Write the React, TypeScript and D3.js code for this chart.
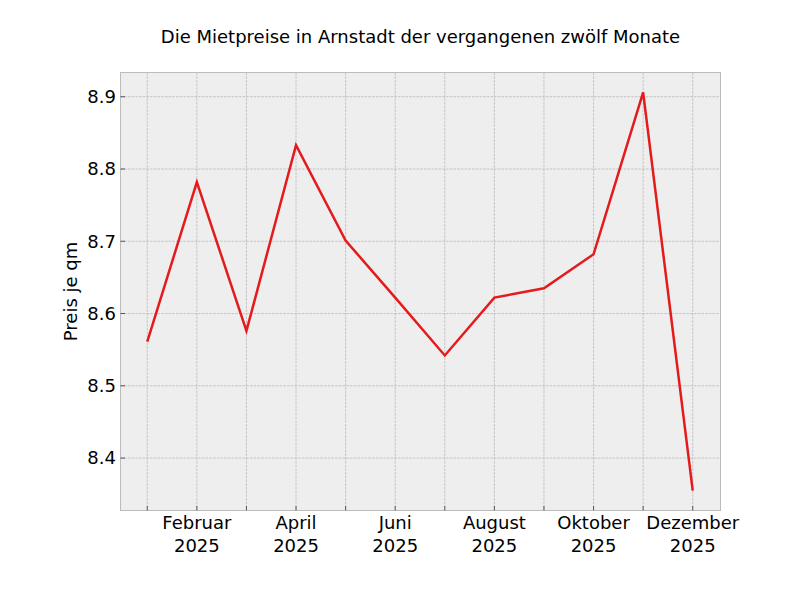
import React from "react";
import * as d3 from "d3";

const months = ["2025-01","2025-02","2025-03","2025-04","2025-05","2025-06","2025-07","2025-08","2025-09","2025-10","2025-11","2025-12"];
const prices = [8.561, 8.782, 8.576, 8.833, 8.701, 8.622, 8.542, 8.622, 8.635, 8.682, 8.906, 8.355];
const monthNames = ["Januar","Februar","März","April","Mai","Juni","Juli","August","September","Oktober","November","Dezember"];
const yTicks = [8.4, 8.5, 8.6, 8.7, 8.8, 8.9];
const title = "Die Mietpreise in Arnstadt der vergangenen zwölf Monate";
const yLabel = "Preis je qm";

const W = 800, H = 600;
const L = 120.5, R = 720.5, T = 72.5, B = 510.5;
const FONT = "DejaVu Sans";
const FS = 18;

export default function App() {
  const n = months.length;
  const xp = (n - 1) * 0.05;
  const x = d3.scaleLinear().domain([-xp, n - 1 + xp]).range([L - 0.5, R - 0.5]);
  const ymin = d3.min(prices)!, ymax = d3.max(prices)!;
  const yp = (ymax - ymin) * 0.05;
  const y = d3.scaleLinear().domain([ymin - yp, ymax + yp]).range([B, T]);
  const line = d3.line<number>().x((_, i) => x(i)).y((d) => y(d));

  return (
    <svg width={W} height={H} style={{ display: "block", position: "absolute", left: 0, top: 0 }} fontFamily={FONT}>
      <rect x={0} y={0} width={W} height={H} fill="#ffffff" />
      <rect x={L} y={T} width={R - L} height={B - T} fill="#eeeeee" />
      {months.map((_, i) => (
        <line key={"gx" + i} x1={x(i)} x2={x(i)} y1={T} y2={B} stroke="#b2b2b2" strokeWidth={0.7} strokeDasharray="2.6,1.1" />
      ))}
      {yTicks.map((v, i) => (
        <line key={"gy" + i} x1={L} x2={R} y1={y(v)} y2={y(v)} stroke="#b2b2b2" strokeWidth={0.7} strokeDasharray="2.6,1.1" />
      ))}
      <path d={line(prices)!} fill="none" stroke="#e41a1c" strokeWidth={2.5} strokeLinejoin="miter" />
      <rect x={L} y={T} width={R - L} height={B - T} fill="none" stroke="#bcbcbc" strokeWidth={1} />
      {months.map((_, i) => (
        <line key={"tx" + i} x1={x(i)} x2={x(i)} y1={B} y2={B - 4.5} stroke="#555" strokeWidth={1} />
      ))}
      {yTicks.map((v, i) => (
        <line key={"ty" + i} x1={L} x2={L + 4.5} y1={y(v)} y2={y(v)} stroke="#555" strokeWidth={1} />
      ))}
      {months.map((m, i) =>
        i % 2 === 1 ? (
          <text key={"lx" + i} x={x(i)} textAnchor="middle" fontSize={FS} fill="#000">
            <tspan x={x(i)} y={529}>{monthNames[+m.slice(5) - 1]}</tspan>
            <tspan x={x(i)} y={552}>{m.slice(0, 4)}</tspan>
          </text>
        ) : null
      )}
      {yTicks.map((v, i) => (
        <text key={"ly" + i} x={116} y={y(v)} dy="0.35em" textAnchor="end" fontSize={FS} fill="#000">
          {v.toFixed(1)}
        </text>
      ))}
      <text transform={`translate(77,${(T + B) / 2}) rotate(-90)`} textAnchor="middle" fontSize={FS} fill="#000">
        {yLabel}
      </text>
      <text x={(L + R) / 2} y={43} textAnchor="middle" fontSize={18} fill="#000">
        {title}
      </text>
    </svg>
  );
}
